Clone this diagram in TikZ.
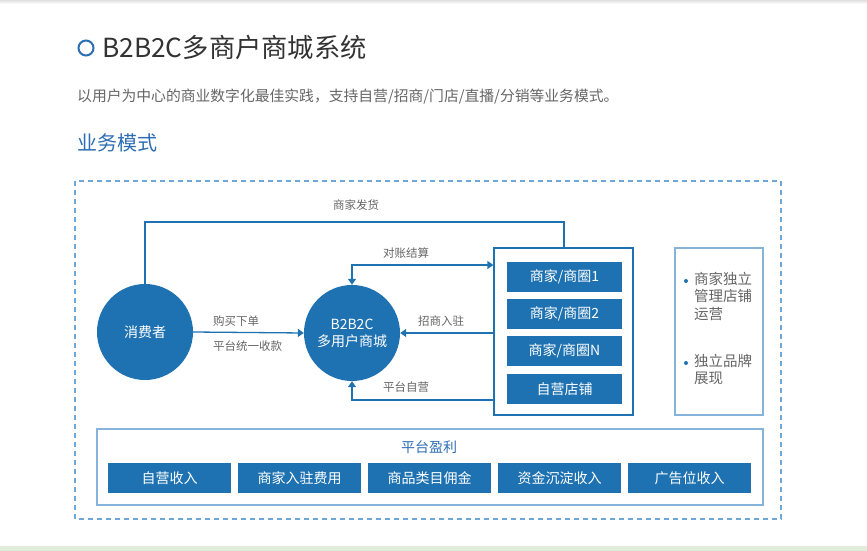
\documentclass[tikz,border=0pt]{standalone}
\usepackage{fontspec}
\setmainfont{Noto Sans CJK SC}
\usetikzlibrary{arrows.meta,calc}
\definecolor{mainblue}{HTML}{1F72B1}
\definecolor{lightborder}{HTML}{86B3D9}
\definecolor{dashblue}{HTML}{6FA7D6}
\definecolor{titlegray}{HTML}{333333}
\definecolor{textgray}{HTML}{666666}
\definecolor{headblue}{HTML}{2C6DB3}
\definecolor{greenband}{HTML}{E1EDDB}
\tikzset{
  bigcircle/.style={circle,fill=mainblue,minimum size=96pt,inner sep=0pt,text=white,font=\fontsize{14}{17}\selectfont,align=center},
  bluebox/.style={fill=mainblue,text=white,minimum width=115pt,minimum height=30pt,inner sep=0pt,font=\fontsize{14}{17}\selectfont},
  revbox/.style={fill=mainblue,text=white,minimum width=123pt,minimum height=30pt,inner sep=0pt,font=\fontsize{14}{17}\selectfont},
  frame/.style={draw=mainblue,line width=1.3pt,fill=white},
  lightframe/.style={draw=lightborder,line width=1.6pt,fill=white},
  conn/.style={draw=mainblue,line width=1.3pt},
  tip/.style={-{Triangle[length=6pt,width=8pt]}},
  lbl/.style={text=textgray,font=\fontsize{11.5}{13}\selectfont,inner sep=0pt},
  sidetext/.style={text=textgray,font=\fontsize{14.5}{17.5}\selectfont,align=left,inner sep=0pt,anchor=north west},
}
\begin{document}
\begin{tikzpicture}[x=1pt,y=-1pt]
\useasboundingbox (0,0) rectangle (867,551);
\fill[white] (0,0) rectangle (867,551);
\shade[top color=black!12,bottom color=white] (0,0) rectangle (867,4);
\fill[greenband] (0,546) rectangle (867,551);
% header
\node[circle,draw=headblue,line width=2pt,minimum size=15pt,inner sep=0pt] (bullet) at (86,48) {};
\node[anchor=west,inner sep=0pt,text=titlegray,font=\fontsize{26.3}{30}\selectfont] (title) at (102,48) {B2B2C多商户商城系统};
\node[anchor=west,inner sep=0pt,text=textgray,font=\fontsize{14.8}{17}\selectfont] (subtitle) at (77,97) {以用户为中心的商业数字化最佳实践，支持自营/招商/门店/直播/分销等业务模式。};
\node[anchor=west,inner sep=0pt,text=headblue,font=\fontsize{20}{24}\selectfont] (mode) at (77,143) {业务模式};
% dashed frame
\draw[dashblue,line width=1.2pt,dash pattern=on 5pt off 4pt] (75,181) rectangle (781,519);
% circles
\node[bigcircle] (cons) at (145,332) {消费者};
\node[bigcircle] (b2c) at (352,333) {B2B2C\\多用户商城};
% merchant frame
\node[frame,minimum width=139pt,minimum height=167pt,inner sep=0pt] (mbox) at (563.5,331.5) {};
\node[bluebox] (m1) at (564.5,277) {商家/商圈1};
\node[bluebox] (m2) at (564.5,314) {商家/商圈2};
\node[bluebox] (mn) at (564.5,351) {商家/商圈N};
\node[bluebox] (ms) at (564.5,389) {自营店铺};
% side frame
\node[lightframe,minimum width=88pt,minimum height=167pt,inner sep=0pt] (side) at (719,331.5) {};
\fill[mainblue] (686,281) circle (2pt);
\node[sidetext] (s1) at (694,272) {商家独立\\管理店铺\\运营};
\fill[mainblue] (686,363) circle (2pt);
\node[sidetext] (s2) at (694,354) {独立品牌\\展现};
% connectors
\coordinate (shipTop) at (564,222);
\draw[conn] (cons.north) |- (shipTop) -- (shipTop |- mbox.north);
\node[lbl] (lship) at (356,205) {商家发货};
\draw[conn,{Triangle[length=6pt,width=8pt]}-{Triangle[length=6pt,width=8pt]}] (b2c.north) |- (mbox.west |- 0,265);
\node[lbl] (lrec) at (406,253) {对账结算};
\draw[conn,tip] (cons.east) -- (b2c.west);
\node[lbl,anchor=west] (lbuy) at (213,321) {购买下单};
\node[lbl,anchor=west] (lpay) at (213,346) {平台统一收款};
\draw[conn,tip] (mbox.west |- b2c.east) -- (b2c.east);
\node[lbl] (ljoin) at (441,321) {招商入驻};
\draw[conn,tip] (mbox.west |- 0,400) -| (b2c.south);
\node[lbl] (lself) at (406,387) {平台自营};
% revenue frame
\node[lightframe,minimum width=666pt,minimum height=76pt,inner sep=0pt] (rev) at (430,467) {};
\node[text=headblue,inner sep=0pt,font=\fontsize{14}{17}\selectfont] (revt) at (429,447) {平台盈利};
\node[revbox] (r1) at (169.5,478) {自营收入};
\node[revbox] (r2) at (299.5,478) {商家入驻费用};
\node[revbox] (r3) at (429.5,478) {商品类目佣金};
\node[revbox] (r4) at (559.5,478) {资金沉淀收入};
\node[revbox] (r5) at (689.5,478) {广告位收入};
\end{tikzpicture}
\end{document}
